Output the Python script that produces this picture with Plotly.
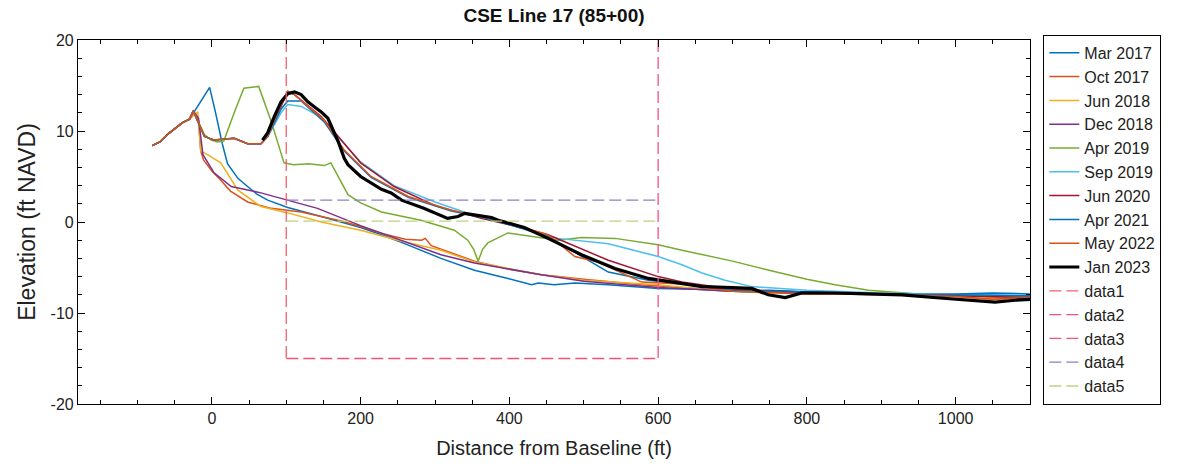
import plotly.graph_objects as go

# Beach profile surveys, CSE Line 17 (85+00)
# distance from baseline (ft) and elevation (ft NAVD) per survey

start_x = [-80, -70, -60, -50, -40, -30]
start_y = [8.4, 8.8, 9.6, 10.3, 10.9, 11.3]

mar2017_x = start_x + [-20, -3, 5, 14, 21, 35, 48, 60, 75, 102, 147, 200, 228, 260, 308, 353, 398, 430, 439, 460, 488, 533, 600, 650, 700, 750, 800, 850, 900, 950, 1000, 1050, 1100]
mar2017_y = start_y + [12.6, 14.8, 12.0, 8.6, 6.4, 4.8, 3.9, 3.1, 2.4, 1.6, 0.6, -0.6, -1.4, -2.4, -4.0, -5.3, -6.2, -6.9, -6.7, -6.9, -6.7, -6.9, -7.3, -7.4, -7.6, -7.5, -7.7, -7.8, -7.9, -7.9, -7.9, -7.8, -7.9]

oct2017_x = start_x + [-25, -18, -15, -11, 0, 12, 25, 48, 80, 120, 174, 200, 230, 260, 282, 287, 295, 353, 400, 443, 500, 578, 600, 650, 700, 750, 800, 850, 900, 950, 1000, 1050, 1100]
oct2017_y = start_y + [12.2, 11.2, 7.8, 6.8, 5.6, 4.6, 3.4, 2.2, 1.5, 1.1, 0.1, -0.5, -1.3, -1.9, -2.0, -1.8, -2.6, -4.3, -5.2, -5.8, -6.3, -6.9, -7.0, -7.3, -7.6, -7.7, -7.9, -7.9, -7.9, -8.0, -8.2, -8.5, -8.3]

jun2018_x = start_x + [-19, -15, -6, 12, 35, 66, 102, 147, 200, 250, 308, 353, 443, 500, 578, 600, 650, 700, 750, 800, 850, 900, 950, 1000, 1050, 1100]
jun2018_y = start_y + [12.1, 7.8, 7.4, 6.5, 3.5, 1.7, 1.0, 0.0, -0.9, -2.0, -3.1, -4.4, -5.8, -6.4, -6.8, -6.9, -7.3, -7.6, -7.8, -7.8, -7.9, -8.0, -8.0, -8.1, -8.3, -8.2]

dec2018_x = start_x + [-25, -18, -12, 3, 26, 66, 102, 142, 200, 250, 308, 353, 443, 500, 578, 600, 650, 700, 750, 800, 850, 900, 950, 1000, 1050, 1100]
dec2018_y = start_y + [12.2, 11.4, 7.4, 5.4, 3.9, 3.2, 2.4, 1.5, -0.4, -1.9, -3.6, -4.5, -5.8, -6.5, -7.1, -7.2, -7.4, -7.6, -7.7, -7.8, -7.9, -7.9, -8.0, -8.1, -8.2, -8.2]

apr2019_x = start_x + [-25, -10, -1, 8, 16, 30, 43, 63, 80, 97, 110, 130, 151, 160, 170, 183, 200, 228, 281, 326, 344, 352, 358, 364, 371, 398, 466, 497, 542, 600, 632, 700, 749, 800, 838, 883, 950, 1000, 1050, 1100]
apr2019_y = start_y + [12.2, 9.6, 9.0, 8.8, 8.9, 12.0, 14.7, 14.9, 11.0, 6.5, 6.3, 6.4, 6.2, 6.5, 5.0, 3.0, 2.1, 1.1, 0.2, -0.9, -2.0, -3.0, -4.3, -3.0, -2.3, -1.2, -2.0, -1.7, -1.8, -2.5, -3.1, -4.3, -5.3, -6.3, -6.9, -7.5, -7.9, -8.0, -8.1, -8.3]

sep2019_x = start_x + [-25, -10, 3, 30, 48, 66, 75, 93, 102, 120, 147, 170, 200, 245, 300, 350, 398, 465, 500, 533, 600, 632, 659, 690, 726, 800, 900, 1000, 1100]
sep2019_y = start_y + [12.2, 9.4, 9.0, 9.2, 8.6, 8.6, 9.4, 12.0, 12.9, 12.7, 11.5, 9.3, 6.6, 4.0, 2.2, 0.8, -0.2, -1.8, -2.1, -2.4, -3.8, -4.7, -5.6, -6.4, -7.1, -7.5, -7.8, -8.0, -8.1]

jun2020_x = start_x + [-25, -10, 3, 30, 48, 66, 75, 93, 102, 111, 147, 170, 200, 245, 300, 362, 400, 452, 533, 600, 632, 700, 800, 900, 1000, 1100]
jun2020_y = start_y + [12.2, 9.4, 9.0, 9.2, 8.6, 8.6, 9.4, 12.7, 14.3, 14.0, 11.6, 9.4, 6.5, 3.9, 1.8, 0.4, -0.3, -1.4, -4.2, -6.0, -6.6, -7.4, -7.7, -7.9, -8.1, -8.3]

apr2021_x = start_x + [-25, -10, 3, 30, 48, 66, 75, 93, 102, 120, 151, 178, 214, 264, 322, 376, 452, 533, 587, 632, 700, 800, 900, 1000, 1100]
apr2021_y = start_y + [12.2, 9.4, 9.0, 9.2, 8.6, 8.6, 9.4, 12.4, 13.3, 13.3, 11.0, 7.8, 4.9, 2.7, 1.2, 0.3, -1.6, -5.5, -6.4, -6.8, -7.5, -7.7, -7.9, -8.0, -8.1]

may2022_x = start_x + [-25, -10, 3, 30, 48, 66, 75, 93, 102, 111, 151, 178, 214, 264, 322, 376, 452, 488, 519, 578, 632, 700, 800, 900, 1000, 1050, 1100]
may2022_y = start_y + [12.2, 9.4, 9.0, 9.2, 8.6, 8.6, 9.4, 12.9, 14.4, 14.0, 11.2, 7.9, 5.0, 2.8, 1.3, 0.4, -1.4, -3.8, -4.4, -6.6, -6.8, -7.6, -7.9, -7.9, -8.2, -8.5, -8.3]

jan2023_x = [68, 75, 84, 93, 102, 111, 120, 129, 142, 147, 156, 164, 170, 178, 183, 200, 210, 228, 241, 255, 285, 317, 331, 340, 344, 360, 376, 385, 420, 452, 497, 524, 542, 587, 602, 632, 659, 700, 726, 748, 771, 793, 838, 880, 928, 970, 1018, 1053, 1080, 1100]
jan2023_y = [9.0, 9.8, 11.6, 13.2, 14.1, 14.3, 14.0, 13.2, 12.4, 12.1, 11.4, 10.0, 8.8, 7.0, 6.3, 5.0, 4.5, 3.6, 3.2, 2.4, 1.5, 0.4, 0.6, 0.95, 0.9, 0.7, 0.5, 0.2, -0.6, -1.8, -3.6, -4.5, -5.1, -6.2, -6.4, -6.8, -7.1, -7.2, -7.3, -8.0, -8.3, -7.8, -7.8, -7.9, -8.0, -8.3, -8.6, -8.8, -8.6, -8.5]

survey_names = ["Mar 2017", "Oct 2017", "Jun 2018", "Dec 2018", "Apr 2019",
                "Sep 2019", "Jun 2020", "Apr 2021", "May 2022", "Jan 2023"]
survey_x = [mar2017_x, oct2017_x, jun2018_x, dec2018_x, apr2019_x,
            sep2019_x, jun2020_x, apr2021_x, may2022_x, jan2023_x]
survey_y = [mar2017_y, oct2017_y, jun2018_y, dec2018_y, apr2019_y,
            sep2019_y, jun2020_y, apr2021_y, may2022_y, jan2023_y]
survey_colors = ["#0072BD", "#D95319", "#EDB120", "#7E2F8E", "#77AC30",
                 "#4DBEEE", "#A2142F", "#0072BD", "#D95319", "#000000"]
survey_widths = [1.5, 1.5, 1.5, 1.5, 1.5, 1.5, 1.5, 1.5, 1.5, 3.2]

# Reference box and design elevations
ref_names = ["data1", "data2", "data3", "data4", "data5"]
ref_x = [[100, 100], [600, 600], [100, 600], [100, 600], [100, 600]]
ref_y = [[20, -15], [20, -15], [-15, -15], [2.4, 2.4], [0.1, 0.1]]
ref_colors = ["#F2606E", "#F0508A", "#F25478", "#8A82C4", "#BCD27E"]

x_ticks = [0, 200, 400, 600, 800, 1000]
y_ticks = [-20, -10, 0, 10, 20]

FONT = "Liberation Sans, Arial, sans-serif"

fig = go.Figure()
for i, (name, xs, ys, c, w) in enumerate(zip(survey_names, survey_x, survey_y, survey_colors, survey_widths)):
    fig.add_trace(go.Scatter(x=xs, y=ys, mode="lines", name=name,
                             legendgroup=f"g{i}",
                             line=dict(color=c, width=w)))
for j, (name, xs, ys, c) in enumerate(zip(ref_names, ref_x, ref_y, ref_colors)):
    fig.add_trace(go.Scatter(x=xs, y=ys, mode="lines", name=name,
                             legendgroup=f"r{j}",
                             line=dict(color=c, width=1.3, dash="12px,5px")))

axis_common = dict(
    showline=True, linecolor="black", linewidth=1.2, mirror="allticks",
    ticks="inside", ticklen=7, tickcolor="black", tickwidth=1,
    showgrid=False, zeroline=False,
    tickfont=dict(family=FONT, size=16, color="#222"),
)

fig.update_xaxes(
    range=[-180, 1100], tickvals=x_ticks, ticktext=[str(v) for v in x_ticks],
    minor=dict(dtick=50, tick0=0, ticks="inside", ticklen=4, tickcolor="black", showgrid=False),
    title=dict(text="Distance from Baseline (ft)", font=dict(family=FONT, size=20, color="#222"), standoff=14),
    **axis_common,
)
fig.update_yaxes(
    range=[-20, 20], tickvals=y_ticks, ticktext=[str(v) for v in y_ticks],
    minor=dict(dtick=2, tick0=0, ticks="inside", ticklen=4, tickcolor="black", showgrid=False),
    title=dict(text="Elevation (ft NAVD)", font=dict(family=FONT, size=23, color="#222"), standoff=8),
    **axis_common,
)

fig.update_layout(
    width=1178, height=474,
    margin=dict(l=78, r=148, t=40, b=70),
    paper_bgcolor="white", plot_bgcolor="white",
    title=dict(text="<b>CSE Line 17 (85+00)</b>", x=0.5, xref="paper", xanchor="center",
               y=0.968, yanchor="middle", font=dict(family=FONT, size=19, color="#111")),
    legend=dict(x=1.014, y=1.014, xanchor="left", yanchor="top",
                bordercolor="black", borderwidth=1, bgcolor="white",
                font=dict(family=FONT, size=16, color="#222"),
                tracegroupgap=2, traceorder="normal", maxheight=420),
    showlegend=True,
)

fig.write_html("out.html")
